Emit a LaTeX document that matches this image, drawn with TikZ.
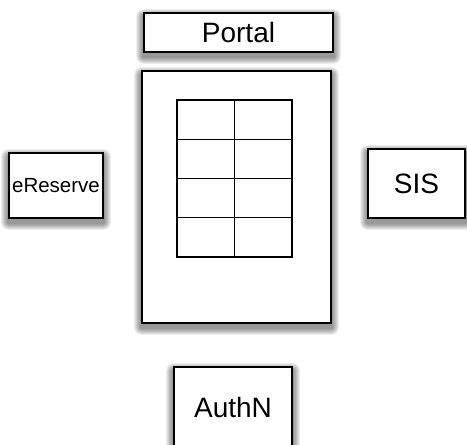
\documentclass[tikz,border=0pt]{standalone}
\usepackage{fontspec}
\setmainfont{Liberation Sans}
\usetikzlibrary{backgrounds}

\begin{document}
\begin{tikzpicture}[x=1pt, y=-1pt,
    box/.style={draw, line width=1.6pt, fill=white, inner sep=0pt},
    boxtext/.style={font=\fontsize{28}{32}\selectfont},
    shadowlayer/.style={fill=black, opacity=0.07}]
    \useasboundingbox (0,0) rectangle (467,445);

    % Portal
    \node[box, boxtext, minimum width=189pt, minimum height=39pt] (portal) at (238.5,32.5) {Portal};

    % main page with grid
    \node[box, minimum width=189pt, minimum height=252pt] (page) at (236.5,197) {};
    \foreach \r in {0,...,3} {
        \foreach \c in {0,1} {
            \draw[line width=1.3pt] (177+\c*57.5, 100+\r*39.25) rectangle ++(57.5,39.25);
        }
    }

    % side systems
    \node[box, font=\fontsize{20.5}{24}\selectfont, minimum width=94pt, minimum height=65pt] (ereserve) at (56,185.5) {eReserve};
    \node[box, boxtext, minimum width=97pt, minimum height=69pt] (sis) at (416.5,183.5) {SIS};

    % AuthN
    \node[box, boxtext, minimum width=118pt, minimum height=80pt] (authn) at (233,407) {AuthN};

    % soft shadows
    \begin{scope}[on background layer]
        \foreach \n in {portal,page,ereserve,sis,authn} {
            \foreach \i in {1,...,7} {
                \fill[shadowlayer, rounded corners=\i pt]
                    ([xshift=-\i pt, yshift=-4pt+\i pt]\n.north west) rectangle ([xshift=\i pt, yshift=-4pt-\i pt]\n.south east);
            }
        }
    \end{scope}
\end{tikzpicture}
\end{document}
